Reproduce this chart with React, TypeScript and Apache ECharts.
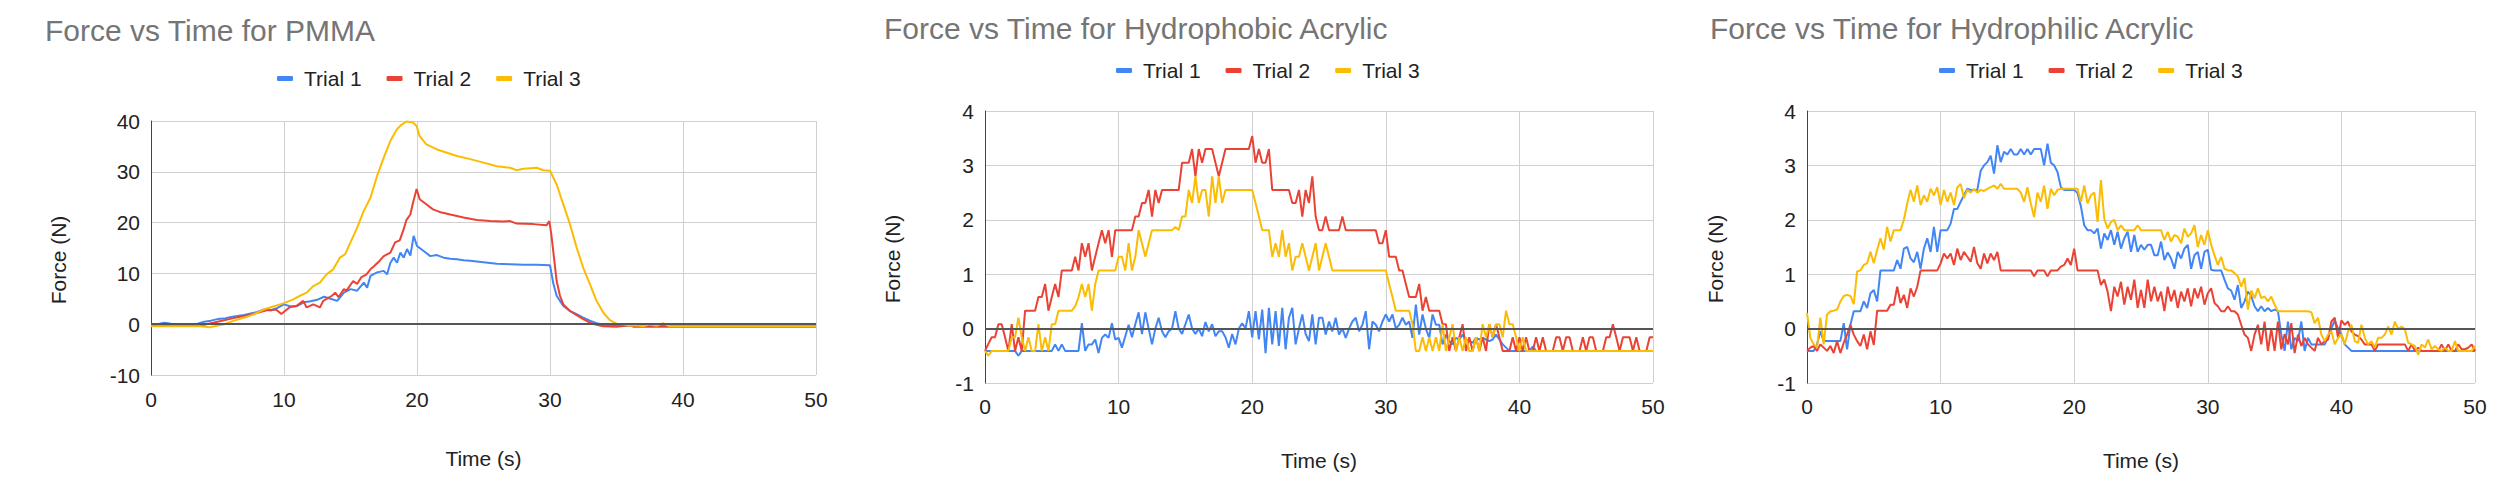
import React, { useEffect, useRef } from "react";
import * as echarts from "echarts";

const TRIALS = ["Trial 1", "Trial 2", "Trial 3"];
const COLORS = ["#4285F4", "#EA4335", "#FBBC04"];
const TITLES = [
  "Force vs Time for PMMA",
  "Force vs Time for Hydrophobic Acrylic",
  "Force vs Time for Hydrophilic Acrylic",
];
const X_NAME = "Time (s)";
const Y_NAME = "Force (N)";
const X_RANGE = [0, 50, 10];
const Y_RANGES = [
  [-10, 40, 10],
  [-1, 4, 1],
  [-1, 4, 1],
];
// sampling step (s) of the acrylic recordings
const STEP = 0.25;

// PMMA: [time s, force N]
const PMMA_T1: number[][] = [
  [0, 0], [0.5, 0], [1, 0.3], [1.5, 0.1], [2, 0], [3, 0], [3.5, 0.1], [4, 0.5], [4.5, 0.7], [5, 1.0],
  [5.5, 1.1], [6, 1.4], [6.5, 1.6], [7, 1.8], [7.5, 2.1], [8, 2.4], [8.5, 2.9], [9, 2.7], [9.5, 3.2],
  [10, 3.9], [10.5, 3.5], [11, 3.6], [11.5, 4.3], [12, 4.5], [12.5, 4.8], [13, 5.4], [13.5, 5.0],
  [14, 4.6], [14.5, 6.2], [15, 6.9], [15.5, 6.6], [16, 8.2], [16.25, 7.2], [16.5, 9.5], [17, 10.2],
  [17.5, 10.5], [17.75, 9.8], [18, 12.1], [18.25, 13.1], [18.5, 12.1], [18.75, 14.1], [19, 13.1],
  [19.25, 14.8], [19.5, 13.5], [19.75, 17.4], [20, 15.4], [20.5, 14.4], [21, 13.4], [21.5, 13.6],
  [22, 13.1], [22.5, 12.9], [23, 12.8], [23.5, 12.6], [24, 12.5], [25, 12.2], [26, 11.9], [27, 11.8],
  [28, 11.7], [29, 11.7], [30, 11.6], [30.25, 8.0], [30.5, 5.6], [31, 3.6], [31.5, 2.6], [32, 2.0],
  [32.5, 1.3], [33, 0.7], [33.5, 0.2], [34, -0.1], [34.5, -0.3], [40, -0.3], [45, -0.3], [50, -0.3],
];
const PMMA_T2: number[][] = [
  [0, -0.3], [3.7, -0.3], [5, 0.5], [6.2, 1.2], [7.4, 1.8], [8.7, 2.75], [9.4, 2.9], [9.8, 2.0],
  [10.45, 3.4], [10.95, 3.6], [11.45, 4.6], [11.7, 3.3], [12.2, 3.9], [12.7, 3.3], [12.95, 4.6],
  [13.6, 5.6], [13.85, 6.2], [14.1, 5.3], [14.5, 6.9], [14.7, 6.6], [15.2, 8.5], [15.5, 7.9],
  [15.8, 9.2], [16.2, 9.8], [16.5, 10.8], [16.8, 11.5], [17.2, 12.5], [17.5, 13.4], [18, 14.1],
  [18.35, 16.1], [18.7, 16.5], [19, 18.7], [19.2, 20.5], [19.5, 21.6], [19.7, 23.9], [19.97, 26.6],
  [20.2, 24.6], [20.7, 23.6], [21.2, 22.6], [21.7, 22.1], [22.5, 21.6], [23.5, 21.0], [24.5, 20.5],
  [25.5, 20.3], [26.5, 20.2], [27, 20.3], [27.5, 19.8], [28.75, 19.7], [29.75, 19.5], [29.95, 20.3],
  [30.1, 17.7], [30.3, 13.1], [30.5, 8.5], [30.75, 5.6], [31, 3.9], [31.5, 2.6], [32, 1.8], [32.5, 1.0],
  [33, 0.3], [33.5, -0.1], [34, -0.4], [35, -0.5], [36, -0.2], [36.3, -0.5], [38, -0.5], [50, -0.5],
];
const PMMA_T3: number[][] = [
  [0, -0.4], [3.7, -0.4], [4.4, -0.6], [5.5, 0.0], [6.2, 0.66], [7.4, 1.6], [8.7, 3.1], [9.95, 4.1],
  [10.7, 4.9], [11.2, 5.6], [11.7, 6.2], [12.2, 7.5], [12.7, 8.2], [13.2, 9.8], [13.7, 10.8],
  [14.2, 13.1], [14.6, 13.8], [15, 16.1], [15.5, 19.0], [16, 22.3], [16.5, 24.9], [17, 29.2],
  [17.5, 32.8], [18, 36.1], [18.5, 38.4], [18.85, 39.3], [19.2, 39.9], [19.7, 39.7], [19.97, 39.0],
  [20.2, 37.0], [20.7, 35.4], [21.5, 34.4], [22.2, 33.8], [23, 33.1], [24, 32.5], [25, 31.8],
  [26, 31.1], [27, 30.8], [27.5, 30.3], [28, 30.6], [28.5, 30.7], [29, 30.8], [29.5, 30.3], [30, 30.2],
  [30.5, 27.5], [31, 23.6], [31.5, 19.7], [32, 15.1], [32.5, 11.1], [33, 7.9], [33.5, 4.6], [34, 2.3],
  [34.5, 0.8], [35, 0.1], [35.5, 0], [36, -0.3], [36.5, -0.2], [37, -0.4], [37.5, 0.0], [38, -0.3],
  [38.5, 0.2], [39, -0.4], [40, -0.4], [50, -0.4],
];

// Hydrophobic acrylic: one value per STEP, from 0 s to 50 s
const PHOBIC_T1 = [
  -0.41, -0.41, -0.41, -0.41, -0.41, -0.41, -0.41, -0.41, -0.41, -0.41, -0.5, -0.41,
  -0.41, -0.41, -0.41, -0.41, -0.41, -0.41, -0.41, -0.41, -0.41, -0.29, -0.41, -0.29,
  -0.41, -0.41, -0.41, -0.41, -0.41, 0.1, -0.41, -0.29, -0.29, -0.2, -0.45, -0.17,
  -0.11, -0.17, 0.1, -0.2, -0.17, -0.35, -0.14, 0.07, -0.16, 0.08, 0.3, -0.1,
  0.3, 0.0, -0.29, 0.0, 0.2, -0.05, -0.16, -0.05, 0.0, 0.32, 0.0, -0.1,
  0.08, 0.26, 0.0, -0.1, 0.0, -0.14, 0.12, -0.05, 0.08, -0.14, -0.05, -0.05,
  -0.16, -0.35, -0.1, -0.29, 0.0, 0.1, 0.0, 0.32, -0.16, 0.32, -0.2, 0.35,
  -0.45, 0.38, -0.29, 0.32, -0.32, 0.38, -0.38, 0.2, 0.38, -0.29, 0.0, 0.26,
  -0.1, -0.23, 0.26, -0.29, 0.2, 0.2, -0.11, 0.13, -0.05, 0.2, -0.11, 0.0,
  -0.17, 0.0, 0.13, 0.2, -0.05, 0.07, 0.32, -0.38, 0.13, 0.07, -0.05, 0.13,
  0.26, 0.13, 0.26, 0.0, 0.07, 0.2, 0.07, 0.13, -0.17, 0.44, -0.11, 0.26,
  0.0, -0.17, 0.26, 0.07, 0.07, -0.29, -0.11, -0.23, -0.29, -0.17, -0.2, -0.11,
  -0.2, -0.23, -0.26, -0.17, -0.2, -0.17, -0.2, -0.23, -0.2, -0.11, -0.2, -0.29,
  -0.35, -0.41, -0.41, -0.41, -0.41, -0.41, -0.41, -0.41, -0.33, -0.41, -0.41, -0.41,
  -0.41, -0.41, -0.41, -0.41, -0.41, -0.41, -0.41, -0.41, -0.41, -0.41, -0.41, -0.41,
  -0.41, -0.41, -0.41, -0.41, -0.41, -0.41, -0.41, -0.41, -0.41, -0.41, -0.41, -0.41,
  -0.41, -0.41, -0.41, -0.41, -0.41, -0.41, -0.41, -0.41, -0.41,
];
const PHOBIC_T2 = [
  -0.41, -0.28, -0.16, -0.16, 0.08, 0.08, -0.16, -0.41, 0.08, -0.41, -0.16, -0.41,
  0.33, 0.33, 0.33, 0.33, 0.58, 0.58, 0.82, 0.33, 0.58, 0.82, 0.58, 1.07,
  1.07, 1.07, 1.07, 1.32, 1.07, 1.57, 1.32, 1.57, 1.07, 1.32, 1.57, 1.81,
  1.57, 1.81, 1.32, 1.81, 1.81, 1.81, 1.81, 1.81, 1.81, 2.06, 2.06, 2.31,
  2.31, 2.55, 2.06, 2.55, 2.31, 2.55, 2.55, 2.55, 2.55, 2.55, 2.55, 3.05,
  3.05, 3.05, 3.3, 2.8, 3.3, 3.05, 3.3, 3.3, 3.3, 3.05, 2.8, 3.05,
  3.3, 3.3, 3.3, 3.3, 3.3, 3.3, 3.3, 3.3, 3.54, 3.05, 3.3, 3.05,
  3.05, 3.3, 2.55, 2.55, 2.55, 2.55, 2.55, 2.55, 2.31, 2.31, 2.55, 2.06,
  2.55, 2.31, 2.8, 2.06, 1.81, 1.81, 2.06, 1.81, 1.81, 1.81, 1.81, 2.06,
  1.81, 1.81, 1.81, 1.81, 1.81, 1.81, 1.81, 1.81, 1.81, 1.81, 1.57, 1.57,
  1.81, 1.32, 1.32, 1.32, 1.07, 1.07, 0.82, 0.58, 0.58, 0.58, 0.82, 0.33,
  0.58, 0.33, 0.33, 0.33, 0.33, 0.08, 0.08, -0.41, -0.16, -0.41, -0.16, 0.08,
  -0.41, -0.16, -0.41, -0.16, -0.41, -0.16, -0.41, 0.08, -0.16, 0.08, -0.16, -0.41,
  -0.41, -0.41, -0.16, -0.41, -0.16, -0.41, -0.16, -0.41, -0.41, -0.16, -0.41, -0.16,
  -0.41, -0.41, -0.41, -0.16, -0.16, -0.41, -0.16, -0.16, -0.41, -0.41, -0.41, -0.16,
  -0.41, -0.16, -0.16, -0.41, -0.41, -0.41, -0.16, -0.16, 0.08, -0.16, -0.41, -0.16,
  -0.16, -0.16, -0.41, -0.16, -0.41, -0.41, -0.41, -0.16, -0.16,
];
const PHOBIC_T3 = [
  -0.41, -0.5, -0.41, -0.41, -0.41, -0.41, -0.41, -0.41, -0.16, -0.16, 0.2, -0.16,
  -0.41, -0.16, -0.41, -0.41, 0.08, -0.41, -0.16, -0.41, 0.08, 0.08, 0.33, 0.33,
  0.33, 0.33, 0.33, 0.41, 0.58, 0.82, 0.58, 0.82, 0.33, 0.82, 1.07, 1.07,
  1.07, 1.07, 1.07, 1.07, 1.32, 1.32, 1.07, 1.57, 1.07, 1.32, 1.81, 1.57,
  1.32, 1.57, 1.81, 1.81, 1.81, 1.81, 1.81, 1.81, 1.81, 1.87, 1.81, 2.06,
  2.06, 2.55, 2.31, 2.8, 2.31, 2.55, 2.55, 2.06, 2.8, 2.31, 2.8, 2.31,
  2.55, 2.55, 2.55, 2.55, 2.55, 2.55, 2.55, 2.55, 2.55, 2.31, 2.06, 1.81,
  1.81, 1.81, 1.32, 1.57, 1.32, 1.81, 1.32, 1.57, 1.07, 1.32, 1.32, 1.57,
  1.32, 1.07, 1.32, 1.57, 1.07, 1.32, 1.57, 1.32, 1.07, 1.07, 1.07, 1.07,
  1.07, 1.07, 1.07, 1.07, 1.07, 1.07, 1.07, 1.07, 1.07, 1.07, 1.07, 1.07,
  1.07, 0.82, 0.58, 0.33, 0.33, 0.33, 0.33, 0.33, 0.08, -0.41, -0.41, -0.16,
  -0.41, -0.16, -0.41, -0.16, -0.41, 0.08, -0.41, -0.16, 0.08, -0.41, -0.16, -0.41,
  -0.16, -0.41, -0.41, -0.16, -0.41, 0.08, -0.16, 0.08, -0.16, 0.08, 0.08, -0.16,
  0.33, 0.08, 0.08, -0.16, -0.41, -0.16, -0.41, -0.41, -0.41, -0.41, -0.41, -0.41,
  -0.41, -0.41, -0.41, -0.41, -0.41, -0.41, -0.41, -0.41, -0.41, -0.41, -0.41, -0.41,
  -0.41, -0.41, -0.41, -0.41, -0.41, -0.41, -0.41, -0.41, -0.41, -0.41, -0.41, -0.41,
  -0.41, -0.41, -0.41, -0.41, -0.41, -0.41, -0.41, -0.41, -0.41,
];

// Hydrophilic acrylic: one value per STEP, from 0 s to 50 s
const PHILIC_T1 = [
  -0.41, -0.41, -0.41, -0.29, -0.05, -0.23, -0.23, -0.23, -0.23, -0.23, -0.23, 0.1,
  -0.38, 0.07, 0.32, 0.32, 0.32, 0.5, 0.38, 0.65, 0.71, 0.5, 1.07, 1.07,
  1.07, 1.07, 1.07, 1.26, 1.1, 1.47, 1.5, 1.29, 1.22, 1.41, 1.1, 1.47,
  1.66, 1.41, 1.87, 1.41, 1.81, 1.81, 1.81, 1.93, 2.2, 2.2, 2.33, 2.45,
  2.57, 2.55, 2.55, 2.55, 2.9, 3.0, 3.06, 3.18, 2.85, 3.37, 3.06, 3.25,
  3.2, 3.3, 3.2, 3.2, 3.3, 3.2, 3.3, 3.2, 3.3, 3.3, 3.3, 3.0,
  3.4, 3.05, 3.0, 2.88, 2.6, 2.55, 2.55, 2.55, 2.55, 2.49, 2.25, 1.9,
  1.81, 1.81, 1.75, 1.84, 1.47, 1.75, 1.63, 1.81, 1.54, 1.78, 1.47, 1.66,
  1.78, 1.41, 1.72, 1.41, 1.54, 1.45, 1.54, 1.54, 1.35, 1.35, 1.6, 1.26,
  1.4, 1.29, 1.1, 1.41, 1.29, 1.47, 1.54, 1.1, 1.35, 1.41, 1.1, 1.41,
  1.45, 1.08, 1.07, 1.07, 1.07, 0.9, 0.74, 0.7, 0.53, 0.8, 0.38, 0.5,
  0.68, 0.6, 0.41, 0.32, 0.41, 0.32, 0.38, 0.32, 0.35, 0.32, -0.11, -0.41,
  0.13, -0.38, -0.17, -0.23, 0.13, -0.41, -0.17, -0.29, -0.29, -0.29, -0.29, -0.29,
  -0.17, 0.0, 0.15, 0.0, -0.11, -0.29, -0.35, -0.41, -0.41, -0.41, -0.41, -0.41,
  -0.41, -0.41, -0.41, -0.41, -0.41, -0.41, -0.41, -0.41, -0.41, -0.41, -0.41, -0.41,
  -0.41, -0.41, -0.41, -0.41, -0.41, -0.41, -0.41, -0.41, -0.41, -0.41, -0.41, -0.41,
  -0.41, -0.41, -0.41, -0.41, -0.41, -0.41, -0.41, -0.41, -0.41,
];
const PHILIC_T2 = [
  -0.41, -0.35, -0.32, -0.41, -0.29, -0.35, -0.41, -0.32, -0.45, -0.23, -0.45, -0.26,
  -0.11, 0.07, -0.11, -0.23, -0.32, -0.11, -0.38, -0.05, -0.3, 0.33, 0.33, 0.33,
  0.33, 0.44, 0.44, 0.77, 0.47, 0.62, 0.38, 0.74, 0.59, 0.77, 1.07, 1.07,
  1.07, 1.07, 1.07, 1.07, 1.2, 1.38, 1.29, 1.38, 1.17, 1.47, 1.26, 1.41,
  1.32, 1.23, 1.5, 1.2, 1.1, 1.38, 1.2, 1.38, 1.26, 1.41, 1.07, 1.07,
  1.07, 1.07, 1.07, 1.07, 1.07, 1.07, 1.07, 1.07, 0.96, 1.07, 1.07, 1.07,
  0.96, 1.07, 1.07, 1.07, 1.14, 1.17, 1.29, 1.17, 1.47, 1.07, 1.07, 1.07,
  1.07, 1.07, 1.07, 1.07, 0.8, 0.9, 0.68, 0.32, 0.77, 0.59, 0.86, 0.44,
  0.77, 0.53, 0.9, 0.38, 0.71, 0.38, 0.9, 0.5, 0.77, 0.5, 0.68, 0.32,
  0.77, 0.5, 0.71, 0.38, 0.68, 0.5, 0.74, 0.41, 0.74, 0.56, 0.77, 0.44,
  0.65, 0.74, 0.47, 0.41, 0.32, 0.32, 0.41, 0.32, 0.32, 0.26, 0.07, -0.11,
  -0.17, -0.41, -0.11, 0.07, -0.29, 0.13, -0.41, 0.0, -0.41, 0.13, -0.38, -0.1,
  -0.29, 0.1, -0.45, -0.11, -0.32, -0.17, -0.29, -0.35, -0.41, -0.17, -0.29, -0.23,
  -0.2, 0.13, 0.2, -0.17, 0.15, 0.07, 0.13, -0.05, -0.11, -0.14, -0.2, -0.29,
  -0.29, -0.29, -0.41, -0.29, -0.29, -0.29, -0.29, -0.29, -0.29, -0.29, -0.29, -0.29,
  -0.41, -0.29, -0.41, -0.35, -0.41, -0.41, -0.41, -0.41, -0.41, -0.41, -0.29, -0.41,
  -0.29, -0.41, -0.41, -0.29, -0.38, -0.38, -0.35, -0.29, -0.41,
];
const PHILIC_T3 = [
  0.29, -0.17, -0.29, -0.35, 0.2, -0.29, 0.26, 0.32, 0.33, 0.35, 0.5, 0.6,
  0.62, 0.6, 0.45, 1.05, 1.07, 1.17, 1.2, 1.41, 1.2, 1.45, 1.66, 1.45,
  1.87, 1.6, 1.81, 1.81, 1.81, 2.0, 2.3, 2.55, 2.33, 2.63, 2.27, 2.45,
  2.33, 2.57, 2.45, 2.6, 2.27, 2.55, 2.33, 2.5, 2.27, 2.6, 2.66, 2.4,
  2.55, 2.5, 2.57, 2.5, 2.55, 2.53, 2.57, 2.6, 2.63, 2.57, 2.66, 2.57,
  2.57, 2.57, 2.57, 2.57, 2.5, 2.33, 2.6, 2.3, 2.05, 2.5, 2.33, 2.63,
  2.2, 2.57, 2.45, 2.55, 2.57, 2.57, 2.57, 2.57, 2.57, 2.57, 2.33, 2.63,
  2.3, 2.45, 2.5, 1.96, 2.73, 2.02, 1.84, 1.96, 2.0, 1.81, 1.9, 1.81,
  1.81, 1.81, 1.81, 1.9, 1.81, 1.81, 1.81, 1.81, 1.81, 1.81, 1.81, 1.63,
  1.78, 1.6, 1.72, 1.69, 1.57, 1.84, 1.69, 1.75, 1.9, 1.5, 1.72, 1.54,
  1.81, 1.54, 1.35, 1.17, 1.32, 1.1, 1.07, 1.07, 1.02, 0.96, 0.77, 0.93,
  0.35, 0.7, 0.56, 0.74, 0.56, 0.59, 0.5, 0.59, 0.44, 0.32, 0.32, 0.32,
  0.32, 0.32, 0.32, 0.32, 0.32, 0.32, 0.32, 0.3, 0.1, 0.2, -0.11, -0.23,
  -0.11, -0.05, -0.29, -0.17, -0.11, -0.29, -0.05, 0.07, -0.23, -0.26, 0.07, -0.17,
  -0.29, -0.23, -0.35, -0.17, -0.17, -0.11, 0.04, -0.11, 0.13, -0.01, 0.04, -0.01,
  -0.26, -0.29, -0.32, -0.48, -0.29, -0.35, -0.2, -0.38, -0.32, -0.38, -0.41, -0.35,
  -0.41, -0.41, -0.23, -0.41, -0.41, -0.41, -0.41, -0.41, -0.32,
];

const PANELS = [
  { title: TITLES[0], pairs: [PMMA_T1, PMMA_T2, PMMA_T3] },
  { title: TITLES[1], values: [PHOBIC_T1, PHOBIC_T2, PHOBIC_T3] },
  { title: TITLES[2], values: [PHILIC_T1, PHILIC_T2, PHILIC_T3] },
];

// layout (px) per panel
const LAYOUT = [
  { grid: { left: 151, top: 121, width: 665, height: 254 }, title: { left: 45, top: 15.5 }, legend: { left: 277, top: 68 }, xGap: 73, xMargin: 14, yGap: 82 },
  { grid: { left: 985, top: 111, width: 668, height: 272 }, title: { left: 884, top: 13 }, legend: { left: 1116, top: 60 }, xGap: 67, xMargin: 13, yGap: 82 },
  { grid: { left: 1807, top: 111, width: 668, height: 272 }, title: { left: 1710, top: 13 }, legend: { left: 1939, top: 60 }, xGap: 67, xMargin: 13, yGap: 81 },
];

const FONT = '"Liberation Sans", Arial, sans-serif';

function buildOption() {
  const title: any[] = [];
  const legend: any[] = [];
  const grid: any[] = [];
  const xAxis: any[] = [];
  const yAxis: any[] = [];
  const series: any[] = [];
  PANELS.forEach((p: any, i) => {
    const L = LAYOUT[i];
    title.push({
      text: p.title,
      left: L.title.left,
      top: L.title.top,
      padding: 0,
      textStyle: { fontSize: 30, fontWeight: "normal", color: "#757575", fontFamily: FONT },
    });
    legend.push({
      left: L.legend.left,
      top: L.legend.top,
      padding: 0,
      icon: "roundRect",
      itemWidth: 16,
      itemHeight: 5,
      itemGap: 25,
      data: TRIALS,
      textStyle: { fontSize: 21, color: "#222", fontFamily: FONT, padding: [0, 0, 0, 6] },
    });
    grid.push({ ...L.grid, containLabel: false });
    xAxis.push({
      type: "value",
      gridIndex: i,
      min: X_RANGE[0],
      max: X_RANGE[1],
      interval: X_RANGE[2],
      name: X_NAME,
      nameLocation: "middle",
      nameGap: L.xGap,
      nameTextStyle: { fontSize: 21, color: "#222", fontFamily: FONT },
      axisLine: { show: false, onZero: false },
      axisTick: { show: false },
      axisLabel: { fontSize: 21, color: "#222", margin: L.xMargin, fontFamily: FONT },
      splitLine: { show: true, lineStyle: { color: "#d0d0d0", width: 1 } },
    });
    const yr = Y_RANGES[i];
    yAxis.push({
      type: "value",
      gridIndex: i,
      min: yr[0],
      max: yr[1],
      interval: yr[2],
      name: Y_NAME,
      nameLocation: "middle",
      nameGap: L.yGap,
      nameTextStyle: { fontSize: 21, color: "#222", fontFamily: FONT, padding: [0, 24, 0, 0] },
      axisLine: { show: true, onZero: false, lineStyle: { color: "#444", width: 1 } },
      axisTick: { show: false },
      axisLabel: { fontSize: 21, color: "#222", margin: 11, fontFamily: FONT },
      splitLine: { show: true, lineStyle: { color: "#d0d0d0", width: 1 } },
    });
    TRIALS.forEach((name, k) => {
      const data = p.pairs
        ? p.pairs[k]
        : p.values[k].map((v: number, j: number) => [j * STEP, v]);
      const s: any = {
        type: "line",
        name,
        xAxisIndex: i,
        yAxisIndex: i,
        data,
        showSymbol: false,
        symbol: "none",
        color: COLORS[k],
        lineStyle: { width: 2, color: COLORS[k] },
      };
      if (k === 0) {
        s.markLine = {
          silent: true,
          symbol: "none",
          label: { show: false },
          lineStyle: { color: "#555", width: 2, type: "solid" },
          data: [{ yAxis: 0 }],
        };
      }
      series.push(s);
    });
  });
  return {
    animation: false,
    backgroundColor: "#ffffff",
    textStyle: { fontFamily: FONT },
    title,
    legend,
    grid,
    xAxis,
    yAxis,
    series,
  };
}

export default function App() {
  const ref = useRef<HTMLDivElement>(null);
  useEffect(() => {
    if (!ref.current) return;
    const chart = echarts.init(ref.current, undefined, { renderer: "svg" });
    chart.setOption(buildOption());
    return () => chart.dispose();
  }, []);
  return (
    <div
      ref={ref}
      style={{ position: "absolute", left: 0, top: 0, width: 2500, height: 485, background: "#fff" }}
    />
  );
}
